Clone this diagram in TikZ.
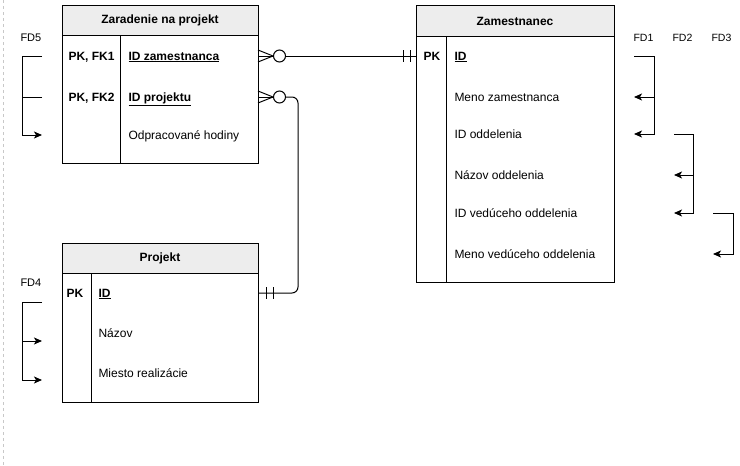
\documentclass[tikz,border=0pt]{standalone}
\usepackage{fontspec}
\setmainfont{Liberation Sans}
\usetikzlibrary{arrows.meta}
\definecolor{hdr}{HTML}{EDEDED}
\definecolor{guide}{HTML}{C8C8C8}
\begin{document}
\begin{tikzpicture}[x=1pt,y=-1pt,
  line width=1pt,
  fs/.style={font=\fontsize{12}{14}\selectfont},
  tbl/.style={draw, rectangle, anchor=north west, inner sep=0pt, outer sep=0pt},
  hdrbox/.style={draw, fill=hdr, rectangle, anchor=north west, inner sep=0pt, outer sep=0pt},
  attr/.style={fs, anchor=base west, inner sep=0pt},
  keyt/.style={fs, anchor=base west, inner sep=0pt, font=\fontsize{12}{14}\selectfont\bfseries},
  title/.style={font=\fontsize{12}{14}\selectfont\bfseries, inner sep=0pt},
  fdl/.style={anchor=base west, inner sep=0pt},
  fdarrow/.style={-{Stealth[length=8pt,width=7pt,inset=2pt]}},
  ring/.style={circle, draw, fill=white, minimum size=12pt, inner sep=0pt},
]
\useasboundingbox (0,0) rectangle (740,466);
\draw[guide, dashed, line width=0.8pt] (3,0) -- (3,466);

% ---- Zaradenie na projekt
\node[tbl, minimum width=196pt, minimum height=158pt] (t1) at (62,5) {};
\node[hdrbox, minimum width=196pt, minimum height=30pt] (t1h) at (62,5) {};
\node[title] (t1t) at (160,20) {Zaradenie na projekt};
\draw (120,35) coordinate (t1d1) -- (120,163) coordinate (t1d2);
\node[keyt] (k11) at (68,60) {PK, FK1};
\node[keyt] (k12) at (68,101) {PK, FK2};
\node[attr] (a11) at (128,60) {\underline{\textbf{ID zamestnanca}}};
\node[attr] (a12) at (128,101) {\underline{\textbf{ID projektu}}};
\node[attr] (a13) at (128,139) {Odpracované hodiny};

% ---- Zamestnanec
\node[tbl, minimum width=198pt, minimum height=277pt] (t2) at (416,5) {};
\node[hdrbox, minimum width=198pt, minimum height=31pt] (t2h) at (416,5) {};
\node[title] (t2t) at (515,21) {Zamestnanec};
\draw (446,36) coordinate (t2d1) -- (446,282) coordinate (t2d2);
\node[keyt] (k21) at (423,60) {PK};
\node[attr] (a21) at (454,60) {\underline{\textbf{ID}}};
\node[attr] (a22) at (454,101) {Meno zamestnanca};
\node[attr] (a23) at (454,138) {ID oddelenia};
\node[attr] (a24) at (454,179) {Názov oddelenia};
\node[attr] (a25) at (454,217) {ID vedúceho oddelenia};
\node[attr] (a26) at (454,258) {Meno vedúceho oddelenia};

% ---- Projekt
\node[tbl, minimum width=196pt, minimum height=159pt] (t3) at (62,243) {};
\node[hdrbox, minimum width=196pt, minimum height=30pt] (t3h) at (62,243) {};
\node[title] (t3t) at (160,258) {Projekt};
\draw (91,273) coordinate (t3d1) -- (91,402) coordinate (t3d2);
\node[keyt] (k31) at (66,297) {PK};
\node[attr] (a31) at (98,297) {\underline{\textbf{ID}}};
\node[attr] (a32) at (98,337) {Názov};
\node[attr] (a33) at (98,377) {Miesto realizácie};

% ---- relationship 1: Zaradenie (zero-to-many) -- Zamestnanec (one)
\coordinate (r1a) at (258,56);
\coordinate (r1p) at (273,56);
\node[ring] (o1) at (279.5,56) {};
\draw (258,50) -- (r1p) -- (258,62);
\draw (r1a) -- (r1p);
\coordinate (r1b) at (416,56);
\draw (o1.east) -- (r1b);
\draw (403,50) -- (403,62);
\draw (410,50) -- (410,62);

% ---- relationship 2: Zaradenie (zero-to-many) -- Projekt (one)
\coordinate (r2a) at (258,97);
\coordinate (r2p) at (273,97);
\node[ring] (o2) at (279.5,97) {};
\draw (258,91) -- (r2p) -- (258,103);
\draw (r2a) -- (r2p);
\coordinate (r2b) at (258,293);
\draw[rounded corners=6pt] (o2.east) -- (298,97) -- (298,293) -- (r2b);
\draw (266,287) -- (266,299);
\draw (273,287) -- (273,299);

% ---- FD5
\node[fdl, font=\fontsize{11}{13}\selectfont] (fd5) at (20,41.7) {FD5};
\coordinate (f5a) at (42,56);
\coordinate (f5b) at (42,97);
\coordinate (f5c) at (42,135);
\draw[fdarrow] (f5a) -- (22,56) -- (22,135) -- (f5c);
\draw (f5b) -- (22,97);

% ---- FD4
\node[fdl, font=\fontsize{11}{13}\selectfont] (fd4) at (20,286.7) {FD4};
\coordinate (f4a) at (42,302);
\coordinate (f4b) at (42,341);
\coordinate (f4c) at (42,380);
\draw[fdarrow] (f4a) -- (22,302) -- (22,380) -- (f4c);
\draw[fdarrow] (22,341) -- (f4b);

% ---- FD1, FD2, FD3
\node[fdl, font=\fontsize{10.5}{12}\selectfont] (fd1) at (633,41.7) {FD1};
\node[fdl, font=\fontsize{10.5}{12}\selectfont] (fd2) at (672,41.7) {FD2};
\node[fdl, font=\fontsize{10.5}{12}\selectfont] (fd3) at (711,41.7) {FD3};

\coordinate (f1a) at (634,56);
\coordinate (f1b) at (634,97);
\coordinate (f1c) at (634,134);
\draw[fdarrow] (f1a) -- (654,56) -- (654,134) -- (f1c);
\draw[fdarrow] (654,97) -- (f1b);

\coordinate (f2a) at (674,134);
\coordinate (f2b) at (674,175);
\coordinate (f2c) at (674,213);
\draw[fdarrow] (f2a) -- (693,134) -- (693,213) -- (f2c);
\draw[fdarrow] (693,175) -- (f2b);

\coordinate (f3a) at (713,213);
\coordinate (f3c) at (713,254);
\draw[fdarrow] (f3a) -- (733,213) -- (733,254) -- (f3c);
\end{tikzpicture}
\end{document}
